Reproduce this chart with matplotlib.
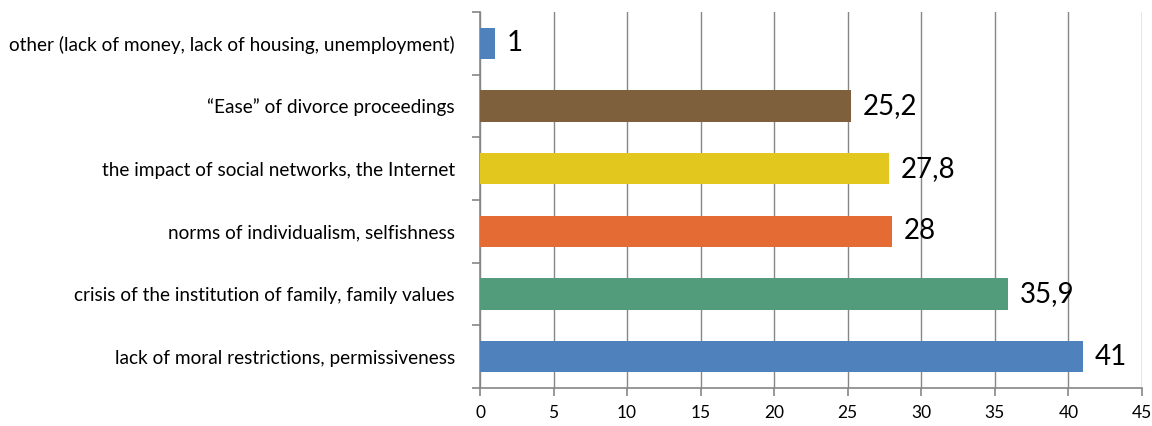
import matplotlib
matplotlib.use("Agg")
import matplotlib.pyplot as plt

plt.rcParams['font.family'] = ['Lato', 'DejaVu Sans']

categories = [
    "lack of moral restrictions, permissiveness",
    "crisis of the institution of family, family values",
    "norms of individualism, selfishness",
    "the impact of social networks, the Internet",
    "\u201cEase\u201d of divorce proceedings",
    "other (lack of money, lack of housing, unemployment)",
]
values = [41, 35.9, 28, 27.8, 25.2, 1]
colors = ["#4F81BD", "#529B7B", "#E46C34", "#E2C71F", "#7F603C", "#4F81BD"]
xticks = [0, 5, 10, 15, 20, 25, 30, 35, 40, 45]

fig = plt.figure(figsize=(11.52, 4.26), dpi=100)
ax = fig.add_axes([480 / 1152, 1 - 388 / 426, 662 / 1152, 376 / 426])

ypos = list(range(len(categories)))
ax.barh(ypos, values, height=0.5, color=colors, zorder=3)

for y, v in zip(ypos, values):
    txt = f"{v:g}".replace(".", ",")
    ax.text(v + 0.8, y, txt, ha='left', va='center', fontsize=20, color='black', zorder=4)

ax.set_xlim(0, 45)
ax.set_ylim(-0.5, len(categories) - 0.5)
ax.set_xticks(xticks)
ax.set_xticklabels([str(t) for t in xticks], fontsize=12.5)

ax.set_yticks(ypos)
ax.set_yticklabels(categories, fontsize=13.7)
ax.set_yticks([i - 0.5 for i in range(len(categories) + 1)], minor=True)
ax.tick_params(axis='y', which='major', length=0, pad=18)
ax.tick_params(axis='y', which='minor', length=6, color='#868686', width=1.2)
ax.tick_params(axis='x', length=6, color='#868686', width=1.2, pad=6)

ax.grid(axis='x', color='#868686', linewidth=1, zorder=0)
for side in ['top', 'right']:
    ax.spines[side].set_visible(False)
for side in ['left', 'bottom']:
    ax.spines[side].set_color('#868686')
    ax.spines[side].set_linewidth(1.2)

fig.savefig("out.png", dpi=100)
